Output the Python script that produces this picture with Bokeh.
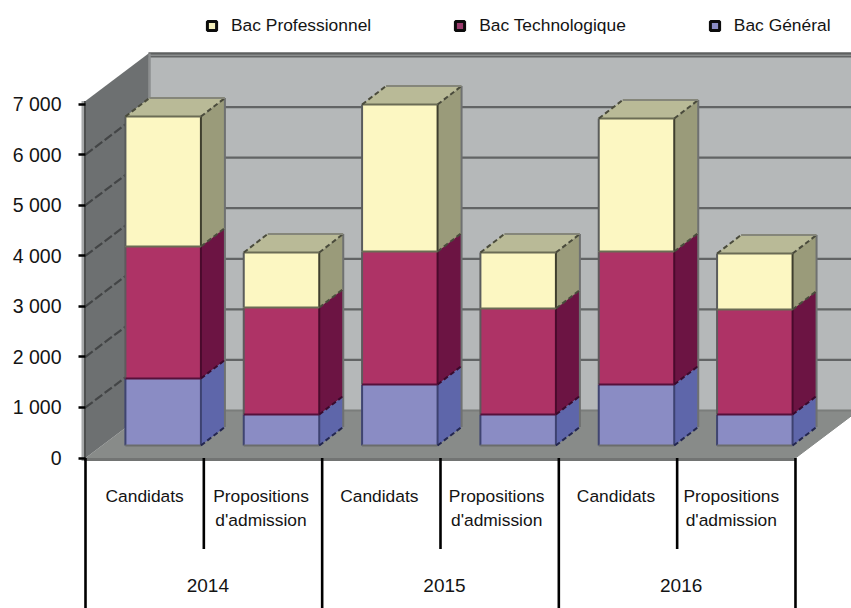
from bokeh.plotting import figure
from bokeh.embed import file_html
from bokeh.resources import INLINE
from bokeh.core.properties import value
from bokeh.models import Range1d, FixedTicker, Legend, LegendItem

# ---- data
years = ["2014", "2015", "2016"]
categories = ["Candidats", "Propositions|d'admission"] * 3
bac_general = [1325, 613, 1206, 613, 1206, 613]
bac_techno = [2610, 2116, 2630, 2096, 2630, 2076]
bac_pro = [2570, 1088, 2907, 1107, 2630, 1107]
tick_values = [0, 1000, 2000, 3000, 4000, 5000, 6000, 7000]
tick_labels = ["0", "1 000", "2 000", "3 000", "4 000", "5 000", "6 000", "7 000"]
series_names = ["Bac Professionnel", "Bac Technologique", "Bac Général"]

# ---- projection constants (pixels per unit)
PX_CAT = 118.33
PX_VAL = 50.57 / 1000
W, H = 851, 608
LEFT = 78
Y0 = 457.5
X0 = 85
FONT = value("Liberation Sans")
FS = "17.4px"
INK = "#141414"

p = figure(
    width=W, height=H, output_backend="svg", toolbar_location=None,
    x_range=Range1d(-(X0 - LEFT) / PX_CAT, (W - X0) / PX_CAT),
    y_range=Range1d(-(H - Y0) / PX_VAL, Y0 / PX_VAL),
    min_border_left=LEFT, min_border_right=0, min_border_top=0, min_border_bottom=0,
    x_axis_location=None, outline_line_color=None,
)
p.grid.visible = False
p.background_fill_color = "white"
p.border_fill_color = "white"

dx = lambda px: px / PX_CAT
dv = lambda px: px / PX_VAL

# depth of the room
RD_X, RD_V = dx(63), dv(47.5)
# depth and placement of the bars
BD_X, BD_V = dx(24), dv(18.5)
BAR_SHIFT = dx(18.5)
BAR_BASE = dv(12.5)
BAR_W = 75.5 / PX_CAT
N = len(categories)
WALL_TOP = 7060

# back wall
p.patch([RD_X, RD_X + N + dx(10), RD_X + N + dx(10), RD_X],
        [RD_V, RD_V, WALL_TOP + RD_V, WALL_TOP + RD_V],
        fill_color="#b5b8b9", line_color=None)
for t in tick_values[1:]:
    p.line([RD_X, RD_X + N + dx(10)], [t + RD_V, t + RD_V], line_color="#626465", line_width=2.2)
p.line([RD_X, RD_X + N + dx(10)], [WALL_TOP + RD_V] * 2, line_color="#5e6060", line_width=2.6)
p.line([RD_X + dx(1)] * 2, [RD_V, WALL_TOP + RD_V], line_color="#8d8f90", line_width=2.5)

# floor
p.patch([0, N, N + RD_X, RD_X], [0, 0, RD_V, RD_V], fill_color="#888b89", line_color=None)
p.line([RD_X, N + RD_X], [RD_V, RD_V], line_color="#7a7d7b", line_width=2)
p.line([N, N + RD_X], [0, RD_V], line_color="#858886", line_width=1)
p.quad(left=[0], right=[N], bottom=[dv(-3)], top=[0], fill_color="#727473", line_color=None)

# left wall
p.patch([0, RD_X, RD_X, 0], [0, RD_V, WALL_TOP + RD_V, WALL_TOP],
        fill_color="#6d7071", line_color=None)
for t in tick_values[1:-1]:
    p.line([0, RD_X], [t, t + RD_V], line_color="#434546", line_width=2.2, line_dash="9 3")
p.quad(left=[dx(-4)], right=[dx(-1)], bottom=[dv(-3)], top=[WALL_TOP], fill_color="#a6a8a9", line_color=None)
p.line([dx(-0.5)] * 2, [dv(-3), WALL_TOP], line_color="#4e5050", line_width=2)

# bars
styles = {
    "gen": dict(front="#8a8cc4", side="#5e66aa", top="#7377b0",
                left="#3f4470", right="#3d4270", bottom="#6a6c6c", diag="#23264f"),
    "tech": dict(front="#ae3366", side="#6c1443", top="#8a2454",
                 left="#5e5a5c", right="#4a0a2c", bottom="#55113a", diag="#3a0a2c"),
    "pro": dict(front="#fcf7c2", side="#9a9b7a", top="#b9ba97",
                left="#5a5c5c", right="#3f3f2e", bottom="#6b6c55", diag="#4a4b3c"),
}


def edge(xs, ys, color, **kw):
    p.line(xs, ys, line_color=color, line_width=2, **kw)


for i in range(N):
    left = i + 0.5 - BAR_W / 2 + BAR_SHIFT
    right = left + BAR_W
    low = BAR_BASE
    for key, vals in (("gen", bac_general), ("tech", bac_techno), ("pro", bac_pro)):
        st = styles[key]
        high = low + vals[i]
        p.patch([right, right + BD_X, right + BD_X, right],
                [low, low + BD_V, high + BD_V, high], fill_color=st["side"], line_color=None)
        p.patch([left, right, right + BD_X, left + BD_X],
                [high, high, high + BD_V, high + BD_V], fill_color=st["top"], line_color=None)
        p.patch([left, right, right, left], [low, low, high, high],
                fill_color=st["front"], line_color=None)
        edge([right + BD_X] * 2, [low + BD_V, high + BD_V], "#6f7171")
        edge([left, left], [low, high], st["left"])
        edge([right, right], [low, high], st["right"])
        edge([left, right], [low, low], st["bottom"])
        edge([right, right + BD_X], [low, low + BD_V], st["diag"], line_dash="5 3")
        low = high
    st = styles["pro"]
    edge([left, right], [low, low], st["bottom"])
    edge([right, right + BD_X], [low, low + BD_V], st["diag"], line_dash="5 3")
    edge([left, left + BD_X], [low, low + BD_V], st["diag"], line_dash="5 3")
    edge([left + BD_X, right + BD_X], [low + BD_V] * 2, "#85867a")

# category tick lines and labels under the floor
for i in range(N + 1):
    long_line = i % 2 == 0
    p.segment(x0=[i], y0=[0], x1=[i], y1=[dv(-151) if long_line else dv(-91)],
              line_color="black", line_width=2.6)

label_nudge = [0, -2, -2, -3, -2, -5]
for i, label in enumerate(categories):
    for j, line in enumerate(label.split("|")):
        p.text(x=[i + 0.5], y=[0], text=[line], x_offset=label_nudge[i], y_offset=38 + 24 * j,
               text_font=FONT, text_font_size=FS, text_color=INK,
               text_align="center", text_baseline="middle")
for i, year in enumerate(years):
    p.text(x=[2 * i + 1], y=[0], text=[year], x_offset=4, y_offset=127,
           text_font=FONT, text_font_size="19px", text_color=INK,
           text_align="center", text_baseline="middle")

# value axis
ax = p.yaxis[0]
ax.ticker = FixedTicker(ticks=tick_values)
ax.major_label_overrides = dict(zip(tick_values, tick_labels))
ax.axis_line_color = None
ax.minor_tick_line_color = None
ax.major_tick_in = 7
ax.major_tick_out = 0
ax.major_tick_line_color = "black"
ax.major_tick_line_width = 2.6
ax.major_label_standoff = 17
ax.major_label_text_font = "Liberation Sans"
ax.major_label_text_font_size = "19.5px"
ax.major_label_text_color = INK

# legend
legend_fills = ["#f3eebb", "#9a3b6c", "#8a8cc4"]
items = []
for name, fill in zip(series_names, legend_fills):
    r = p.scatter(x=[float("nan")], y=[float("nan")], marker="square", size=9,
                  fill_color=fill, line_color="#0c0c0c", line_width=3)
    items.append(LegendItem(label=value(name), renderers=[r]))
legend = Legend(items=items, orientation="horizontal", location=(122, 571),
                glyph_width=23, glyph_height=23, label_standoff=8, spacing=77,
                padding=0, margin=0, background_fill_alpha=0, border_line_color=None,
                label_text_font="Liberation Sans", label_text_font_size=FS,
                label_text_color=INK)
p.add_layout(legend, "center")

open("out.html", "w").write(file_html(p, INLINE))
